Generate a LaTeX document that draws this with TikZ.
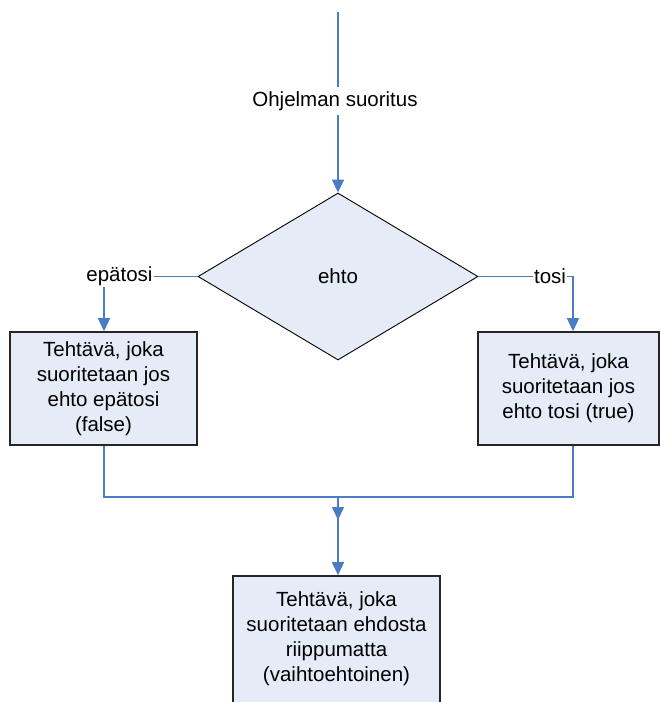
\documentclass[tikz,border=0pt]{standalone}
\usepackage{fontspec}
\setmainfont{Liberation Sans}
\usetikzlibrary{shapes.geometric,arrows.meta,decorations.markings}

\definecolor{flowblue}{HTML}{4A7CC6}
\definecolor{boxfill}{HTML}{E6ECF7}

\tikzset{
  flow/.style={draw=flowblue, line width=1.5pt},
  tip/.style={-{Triangle[width=12pt,length=13pt]}},
  taskbox/.style={rectangle, draw=black!85, line width=1.6pt, fill=boxfill,
                  inner sep=0pt, align=center},
  decision/.style={diamond, draw=black, line width=0.9pt, fill=boxfill,
                   inner sep=0pt, minimum width=280pt, minimum height=167pt},
  lbl/.style={fill=white, inner sep=1pt},
  txt/.style={font=\fontsize{20.5}{25}\selectfont}
}

\begin{document}
\begin{tikzpicture}[x=1pt, y=-1pt, txt]
\clip (0,0) rectangle (660,702);

% start of the flow
\coordinate (start) at (338,12);

% decision
\node[decision] (cond) at (338,276.5) {ehto};

% branch tasks
\node[taskbox, minimum width=187pt, minimum height=113pt] (falsebox) at (103.5,388.5)
  {Tehtävä, joka\\suoritetaan jos\\ehto epätosi\\(false)};
\node[taskbox, minimum width=181pt, minimum height=113pt] (truebox) at (568.5,388.5)
  {Tehtävä, joka\\suoritetaan jos\\ehto tosi (true)};

% final task (runs off the lower edge)
\node[taskbox, minimum width=207pt, minimum height=140pt] (finalbox) at (336.5,646) {};
\node[align=center, inner sep=0pt] (finaltext) at (336.5,638.5)
  {Tehtävä, joka\\suoritetaan ehdosta\\riippumatta\\(vaihtoehtoinen)};

% bend points
\coordinate (fc) at (104,276.5);
\coordinate (tc) at (573,276.5);
\coordinate (jl) at (104,497);
\coordinate (jr) at (573,497);
\coordinate (jm) at (338,497);

% connectors
\draw[flow, tip] (start) -- (cond.north);
\draw[flow, tip] (cond.west) -- (fc) -- (fc |- falsebox.north);
\draw[flow, tip] (cond.east) -- (tc) -- (tc |- truebox.north);
\draw[flow] (fc |- falsebox.south) -- (jl) -- (jr) -- (tc |- truebox.south);
\draw[flow, tip,
  postaction={decorate, decoration={markings,
    mark=at position 23pt with {\arrow{Triangle[width=12pt,length=13pt]}}}}]
  (jm) -- (jm |- finalbox.north);

% labels on the connectors
\node[fill=white, inner sep=4pt] (runlbl) at (335,101) {Ohjelman suoritus};
\node[lbl] (nolbl) at (119.5,276.5) {epätosi};
\node[lbl] (yeslbl) at (550,276.5) {tosi};
\end{tikzpicture}
\end{document}
